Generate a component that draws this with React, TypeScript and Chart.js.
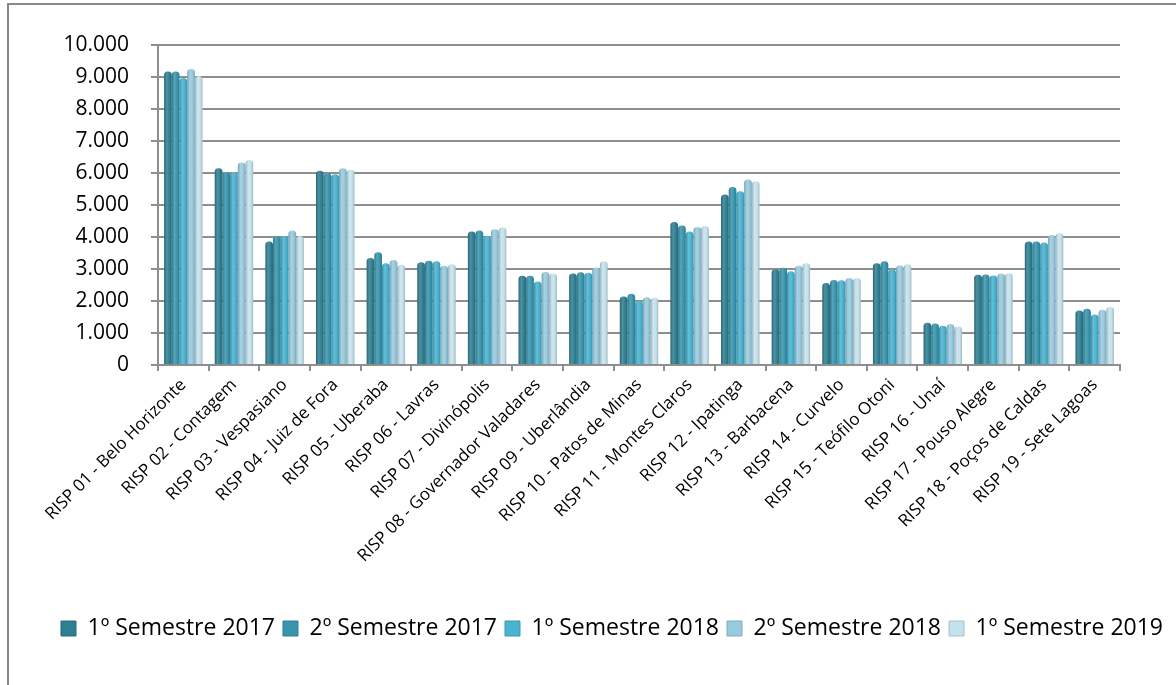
import React, { useEffect, useRef } from "react";
import { Chart, registerables } from "chart.js";

Chart.register(...registerables);

const categories = [
  "RISP 01 - Belo Horizonte",
  "RISP 02 - Contagem",
  "RISP 03 - Vespasiano",
  "RISP 04 - Juiz de Fora",
  "RISP 05 - Uberaba",
  "RISP 06 - Lavras",
  "RISP 07 - Divinópolis",
  "RISP 08 - Governador Valadares",
  "RISP 09 - Uberlândia",
  "RISP 10 - Patos de Minas",
  "RISP 11 - Montes Claros",
  "RISP 12 - Ipatinga",
  "RISP 13 - Barbacena",
  "RISP 14 - Curvelo",
  "RISP 15 - Teófilo Otoni",
  "RISP 16 - Unaí",
  "RISP 17 - Pouso Alegre",
  "RISP 18 - Poços de Caldas",
  "RISP 19 - Sete Lagoas",
];

const seriesNames = [
  "1º Semestre 2017",
  "2º Semestre 2017",
  "1º Semestre 2018",
  "2º Semestre 2018",
  "1º Semestre 2019",
];

const sem1_2017 = [9170, 6150, 3860, 6070, 3340, 3210, 4170, 2790, 2860, 2140, 4470, 5330, 2990, 2560, 3180, 1320, 2820, 3860, 1700];
const sem2_2017 = [9170, 6020, 4030, 5990, 3520, 3260, 4200, 2790, 2900, 2230, 4360, 5560, 3040, 2660, 3240, 1300, 2830, 3860, 1760];
const sem1_2018 = [8970, 6020, 4020, 5960, 3180, 3240, 4020, 2610, 2880, 2000, 4170, 5430, 2930, 2650, 2990, 1230, 2800, 3830, 1580];
const sem2_2018 = [9250, 6330, 4200, 6150, 3280, 3100, 4240, 2910, 3050, 2120, 4310, 5800, 3100, 2720, 3110, 1280, 2860, 4060, 1730];
const sem1_2019 = [9020, 6410, 4020, 6100, 3130, 3150, 4300, 2860, 3240, 2100, 4340, 5740, 3180, 2720, 3150, 1200, 2870, 4120, 1810];

const yMin = 0;
const yMax = 10000;
const yStep = 1000;

const seriesColors = ["#2f7f92", "#3895ad", "#4ab3d0", "#98cade", "#c4e2ec"];

const CAT_PCT = 0.76;
const FONT = "'Open Sans', 'Noto Sans', sans-serif";

function shade(hex: string, f: number): string {
  const n = parseInt(hex.slice(1), 16);
  let r = (n >> 16) & 255, g = (n >> 8) & 255, b = n & 255;
  if (f < 1) {
    r = Math.round(r * f); g = Math.round(g * f); b = Math.round(b * f);
  } else {
    const t = f - 1;
    r = Math.round(r + (255 - r) * t); g = Math.round(g + (255 - g) * t); b = Math.round(b + (255 - b) * t);
  }
  return `rgb(${r},${g},${b})`;
}

function fmt(v: number): string {
  return String(v).replace(/\B(?=(\d{3})+(?!\d))/g, ".");
}

export default function App() {
  const ref = useRef<HTMLCanvasElement | null>(null);

  useEffect(() => {
    if (!ref.current) return;
    const allSeries = [sem1_2017, sem2_2017, sem1_2018, sem2_2018, sem1_2019];
    const nSeries = allSeries.length;

    const datasets = allSeries.map((data, si) => {
      const base = seriesColors[si];
      return {
        label: seriesNames[si],
        data,
        yAxisID: "y",
        borderWidth: 0,
        borderRadius: 3.5,
        borderSkipped: "start" as const,
        categoryPercentage: CAT_PCT,
        barPercentage: 1.0,
        backgroundColor: (c: any) => {
          const chart = c.chart;
          const xs = chart.scales && chart.scales.x;
          if (!xs || c.type !== "data" || !xs.width) return base;
          const catW = xs.width / categories.length;
          const groupW = catW * CAT_PCT;
          const barW = groupW / nSeries;
          const left = xs.getPixelForValue(c.dataIndex) - groupW / 2 + c.datasetIndex * barW;
          const g = chart.ctx.createLinearGradient(left, 0, left + barW, 0);
          g.addColorStop(0, shade(base, 0.8));
          g.addColorStop(0.35, shade(base, 1.15));
          g.addColorStop(0.7, base);
          g.addColorStop(1, shade(base, 0.82));
          return g;
        },
      };
    });

    const chart = new Chart(ref.current, {
      type: "bar",
      data: { labels: categories, datasets },
      options: {
        animation: false,
        responsive: false,
        layout: { padding: { left: 48, right: 0, top: 45, bottom: 35 } },
        plugins: {
          legend: {
            position: "bottom",
            labels: {
              boxWidth: 15,
              boxHeight: 15,
              padding: 8,
              color: "#000",
              font: { family: FONT, size: 23 },
              generateLabels: (ch: any) =>
                seriesNames.map((name, i) => ({
                  text: name,
                  fillStyle: seriesColors[i],
                  strokeStyle: shade(seriesColors[i], 0.85),
                  lineWidth: 1,
                  hidden: false,
                  datasetIndex: i,
                  fontColor: "#000",
                })),
            },
          },
          tooltip: { enabled: false },
          title: { display: false },
        },
        scales: {
          x: {
            afterFit: (s: any) => {
              s.height = 244;
              s.paddingLeft = 0;
              s.paddingRight = 0;
            },
            grid: {
              drawOnChartArea: false,
              drawTicks: true,
              tickLength: 6,
              offset: true,
              color: "#8e8e8e",
              lineWidth: 2,
            },
            border: { display: true, color: "#8e8e8e", width: 2 },
            ticks: {
              autoSkip: false,
              minRotation: 45,
              maxRotation: 45,
              padding: 4,
              color: "#000",
              font: { family: FONT, size: 17 },
            },
          },
          y: {
            min: yMin,
            max: yMax,
            position: "left",
            afterFit: (s: any) => {
              s.width = 110;
            },
            grid: {
              color: "#8e8e8e",
              lineWidth: 2,
              drawTicks: true,
              tickLength: 7,
            },
            border: { display: true, color: "#8e8e8e", width: 2 },
            ticks: {
              stepSize: yStep,
              padding: 22,
              color: "#000",
              font: { family: FONT, size: 21 },
              callback: (v: any) => fmt(Number(v)),
            },
          },
          yRight: {
            position: "right",
            display: true,
            afterFit: (s: any) => {
              s.width = 56;
            },
            grid: { display: false, drawTicks: false },
            border: { display: false },
            ticks: { display: false },
          },
        },
      },
    });
    return () => chart.destroy();
  }, []);

  return (
    <div style={{ position: "fixed", left: 0, top: 0, width: 1176, height: 685, overflow: "hidden", background: "#fff" }}>
      <div
        style={{
          position: "absolute",
          left: 7,
          top: 3,
          width: 1400,
          height: 900,
          borderLeft: "2px solid #878787",
          borderTop: "2px solid #878787",
        }}
      />
      <canvas ref={ref} width={1176} height={685} style={{ position: "absolute", left: 0, top: 0, display: "block" }} />
    </div>
  );
}
